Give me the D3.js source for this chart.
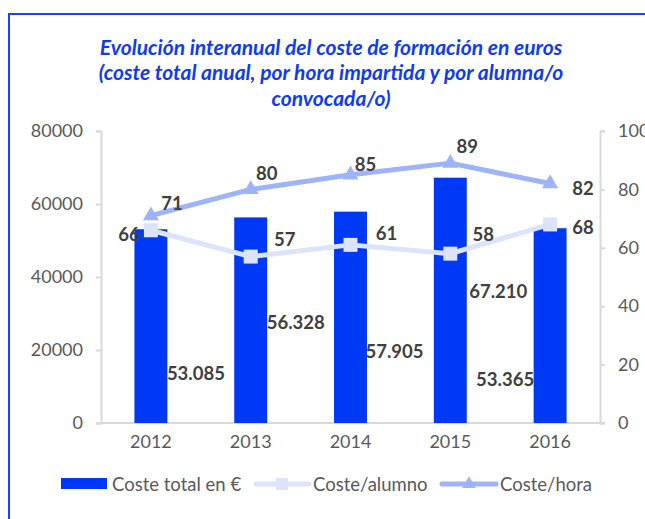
<!DOCTYPE html>
<html><head><meta charset="utf-8">
<script src="https://cdn.jsdelivr.net/npm/d3@7"></script>
<style>body{margin:0;background:#fff} svg{display:block;font-family:Lato,"Open Sans",sans-serif}</style>
</head><body><svg id="c" width="645" height="519"></svg>
<script>
const years = ["2012", "2013", "2014", "2015", "2016"];
const costeTotal = [53085, 56328, 57905, 67210, 53365];
const costeAlumno = [66, 57, 61, 58, 68];
const costeHora = [71, 80, 85, 89, 82];
const leftTicks = [0, 20000, 40000, 60000, 80000];
const rightTicks = [0, 20, 40, 60, 80, 100];
const titleLines = ["Evolución interanual del coste de formación en euros",
  "(coste total anual, por hora impartida y por alumna/o",
  "convocada/o)"];
const legendLabels = ["Coste total en €", "Coste/alumno", "Coste/hora"];

// layout (label placement as in the original)
const barLabelOff = [[45, 144], [45, 105], [44, 139], [48, 113], [-45, 151]];
const horaLabelOff = [[21, -13], [16, -16], [15, -11], [17, -17], [33, 4]];
const alumnoLabelOff = [[-22, 4], [34, -18], [36, -12], [33, -20], [33, 3]];

const C = {bar: "#0039f5", alumno: "#dbe3fd", hora: "#9db3fa", axis: "#d9d9d9", tick: "#595959", lbl: "#404040", title: "#0d3cf0", frame: "#1447ee"};

const svg = d3.select("#c");
const loc = d3.formatLocale({decimal: ",", thousands: ".", grouping: [3], currency: ["", "€"]});
const fmtThousands = loc.format(",.0f");

// frame
svg.append("path").attr("d", "M9,520 L9,14 L650,14").attr("fill", "none").attr("stroke", C.frame).attr("stroke-width", 2);

// title
svg.append("g").selectAll("text").data(titleLines).join("text")
  .attr("x", 331).attr("y", (d, i) => 54.5 + i * 25.5)
  .attr("text-anchor", "middle").attr("fill", C.title)
  .attr("font-size", 21).attr("font-weight", "bold").attr("font-style", "italic")
  .text(d => d);

const x = d3.scaleBand().domain(years).range([101, 600]).paddingInner(0.67).paddingOuter(0.335);
const yL = d3.scaleLinear().domain([0, 80000]).range([423, 131]);
const yR = d3.scaleLinear().domain([0, 100]).range([423, 131]);

function styleAxis(g) {
  g.selectAll("path.domain").attr("stroke", C.axis).attr("stroke-width", 2);
  g.selectAll(".tick line").attr("stroke", C.axis).attr("stroke-width", 2);
  g.selectAll(".tick text").attr("fill", C.tick).attr("font-size", 18).attr("font-family", "Lato, sans-serif");
}
const gl = svg.append("g").attr("transform", "translate(101,0)")
  .call(d3.axisLeft(yL).tickValues(leftTicks).tickFormat(d3.format("d")).tickSize(5).tickSizeOuter(5).tickPadding(13));
styleAxis(gl);
const gr = svg.append("g").attr("transform", "translate(600,0)")
  .call(d3.axisRight(yR).tickValues(rightTicks).tickFormat(d3.format("d")).tickSize(5).tickSizeOuter(5).tickPadding(13));
styleAxis(gr);
const gb = svg.append("g").attr("transform", "translate(0,423)")
  .call(d3.axisBottom(x).tickSize(0).tickSizeOuter(0).tickPadding(12));
styleAxis(gb);
gb.select("path.domain").attr("d", "M96,0H605");

// bars
svg.append("g").selectAll("rect").data(costeTotal).join("rect")
  .attr("x", (d, i) => x(years[i])).attr("width", x.bandwidth())
  .attr("y", d => yL(d)).attr("height", d => yL(0) - yL(d)).attr("fill", C.bar);

const line = (arr) => d3.line().x((d, i) => x(years[i]) + x.bandwidth() / 2).y(d => yR(d))(arr);
const cx = i => x(years[i]) + x.bandwidth() / 2;

// alumno line
svg.append("path").attr("d", line(costeAlumno)).attr("fill", "none").attr("stroke", C.alumno).attr("stroke-width", 5).attr("stroke-linejoin", "round");
svg.append("g").selectAll("rect").data(costeAlumno).join("rect")
  .attr("x", (d, i) => cx(i) - 7).attr("y", d => yR(d) - 7).attr("width", 14).attr("height", 14).attr("fill", C.alumno);
// hora line
svg.append("path").attr("d", line(costeHora)).attr("fill", "none").attr("stroke", C.hora).attr("stroke-width", 5).attr("stroke-linejoin", "round");
svg.append("g").selectAll("path").data(costeHora).join("path")
  .attr("transform", (d, i) => `translate(${cx(i)},${yR(d)})`)
  .attr("d", d3.symbol().type(d3.symbolTriangle).size(110)).attr("fill", C.hora);

// labels
function labels(arr, off, yf, fmt) {
  svg.append("g").selectAll("text").data(arr).join("text")
    .attr("x", (d, i) => cx(i) + off[i][0]).attr("y", (d, i) => yf(d) + off[i][1])
    .attr("text-anchor", "middle").attr("dominant-baseline", "central")
    .attr("fill", C.lbl).attr("font-size", 18.5).attr("font-weight", "bold")
    .text(fmt);
}
labels(costeTotal, barLabelOff, d => yL(d), d => fmtThousands(d));
labels(costeHora, horaLabelOff, d => yR(d), d => d);
labels(costeAlumno, alumnoLabelOff, d => yR(d), d => d);

// legend
const lg = svg.append("g").attr("font-size", 18.5).attr("fill", C.tick);
lg.append("rect").attr("x", 61).attr("y", 478).attr("width", 46).attr("height", 11).attr("fill", C.bar);
lg.append("text").attr("x", 112).attr("y", 484).attr("dominant-baseline", "central").attr("fill", C.tick).text(legendLabels[0]);
lg.append("line").attr("x1", 256).attr("x2", 309).attr("y1", 484).attr("y2", 484).attr("stroke", C.alumno).attr("stroke-width", 5).attr("stroke-linecap", "round");
lg.append("rect").attr("x", 276).attr("y", 478).attr("width", 12).attr("height", 12).attr("fill", C.alumno);
lg.append("text").attr("x", 313).attr("y", 484).attr("dominant-baseline", "central").attr("fill", C.tick).text(legendLabels[1]);
lg.append("line").attr("x1", 442).attr("x2", 496).attr("y1", 484).attr("y2", 484).attr("stroke", C.hora).attr("stroke-width", 5).attr("stroke-linecap", "round");
lg.append("path").attr("transform", "translate(469,484)").attr("d", d3.symbol().type(d3.symbolTriangle).size(80)).attr("fill", C.hora);
lg.append("text").attr("x", 500).attr("y", 484).attr("dominant-baseline", "central").attr("fill", C.tick).text(legendLabels[2]);
</script></body></html>
